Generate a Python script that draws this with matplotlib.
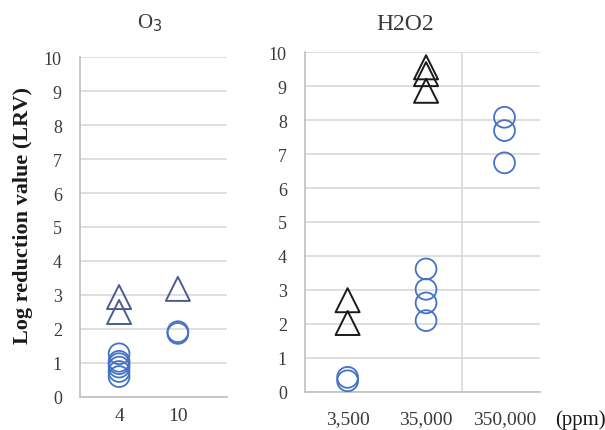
"""
Log reduction values for O3 and H2O2 treatments, two side-by-side panels.
"""

import matplotlib.pyplot as plt

# O3 panel (concentration on a linear axis)
O3_TICKS = [4, 10]
O3_TICK_LABELS = ['4', '10']
O3_TRI_X = [4, 4, 10]
O3_TRI_Y = [2.94, 2.50, 3.18]
O3_CIRC_X = [4, 4, 4, 4, 4, 4, 10, 10]
O3_CIRC_Y = [1.27, 1.05, 0.98, 0.88, 0.75, 0.60, 1.92, 1.87]

# H2O2 panel (ppm on a log axis)
H2O2_TICKS = [3500, 35000, 350000]
H2O2_TICK_LABELS = ['3,500', '35,000', '350,000']
H2O2_TRI_X = [3500, 3500, 35000, 35000, 35000]
H2O2_TRI_Y = [2.70, 2.03, 9.55, 9.35, 8.86]
H2O2_CIRC_X = [3500, 3500, 35000, 35000, 35000, 35000, 350000, 350000, 350000]
H2O2_CIRC_Y = [0.43, 0.33, 3.62, 3.02, 2.62, 2.10, 8.08, 7.69, 6.74]

CIRCLE_COLOR = '#4472C4'
O3_TRI_COLOR = '#4A5D8E'
H2O2_TRI_COLOR = '#1A1A1A'
GRID_COLOR = '#D9D9D9'
SPINE_COLOR = '#BFBFBF'
TEXT_COLOR = '#3A3A3A'
SERIF = ['Liberation Serif', 'DejaVu Serif']

plt.rcParams['font.family'] = SERIF


def _style_axes(ax, xpad):
    ax.set_ylim(0, 10)
    ax.set_yticks(range(11))
    ax.yaxis.grid(True, color=GRID_COLOR, linewidth=1.2)
    ax.set_axisbelow(True)
    for side in ('top', 'right'):
        ax.spines[side].set_visible(False)
    for side in ('left', 'bottom'):
        ax.spines[side].set_color(SPINE_COLOR)
        ax.spines[side].set_linewidth(1.2)
    ax.tick_params(length=0, labelcolor=TEXT_COLOR)
    ax.tick_params(axis='y', pad=13, labelsize=13)
    ax.tick_params(axis='x', pad=xpad, labelsize=14)


def _draw_points(ax, tx, ty, tcolor, cx, cy):
    ax.scatter(tx, ty, marker='^', s=300, facecolors='none',
               edgecolors=tcolor, linewidths=1.4, zorder=3, clip_on=False)
    ax.scatter(cx, cy, marker='o', s=225, facecolors='none',
               edgecolors=CIRCLE_COLOR, linewidths=1.3, zorder=3, clip_on=False)


fig = plt.figure(figsize=(6.05, 4.31), dpi=100)

ax1 = fig.add_axes([0.132, 0.0766, 0.243, 0.7888])
_style_axes(ax1, xpad=7)
ax1.set_xlim(0, 15)
ax1.set_xticks(O3_TICKS)
ax1.set_xticklabels(O3_TICK_LABELS)
_draw_points(ax1, O3_TRI_X, O3_TRI_Y, O3_TRI_COLOR, O3_CIRC_X, O3_CIRC_Y)

ax2 = fig.add_axes([0.504, 0.0882, 0.389, 0.7888])
_style_axes(ax2, xpad=13)
ax2.set_xscale('log')
ax2.set_xlim(1e3, 1e6)
ax2.set_xticks(H2O2_TICKS)
ax2.set_xticklabels(H2O2_TICK_LABELS)
ax2.minorticks_off()
ax2.axvline(1e5, color=GRID_COLOR, linewidth=1.2, zorder=0)
_draw_points(ax2, H2O2_TRI_X, H2O2_TRI_Y, H2O2_TRI_COLOR, H2O2_CIRC_X, H2O2_CIRC_Y)

fig.text(150 / 605, 1 - 23 / 431, 'O$_3$', ha='center', va='center',
         fontsize=15, color=TEXT_COLOR)
fig.text(405 / 605, 1 - 25 / 431, 'H2O2', ha='center', va='center',
         fontsize=17, color=TEXT_COLOR)
fig.text(23 / 605, 1 - 215 / 431, 'Log reduction value (LRV)', rotation=90,
         ha='center', va='center', fontsize=16, fontweight='bold', color='#1A1A1A')
fig.text(580 / 605, 1 - 420 / 431, '(ppm)', ha='center', va='center',
         fontsize=15, color='#1A1A1A')

fig.savefig('out.png', dpi=100)
